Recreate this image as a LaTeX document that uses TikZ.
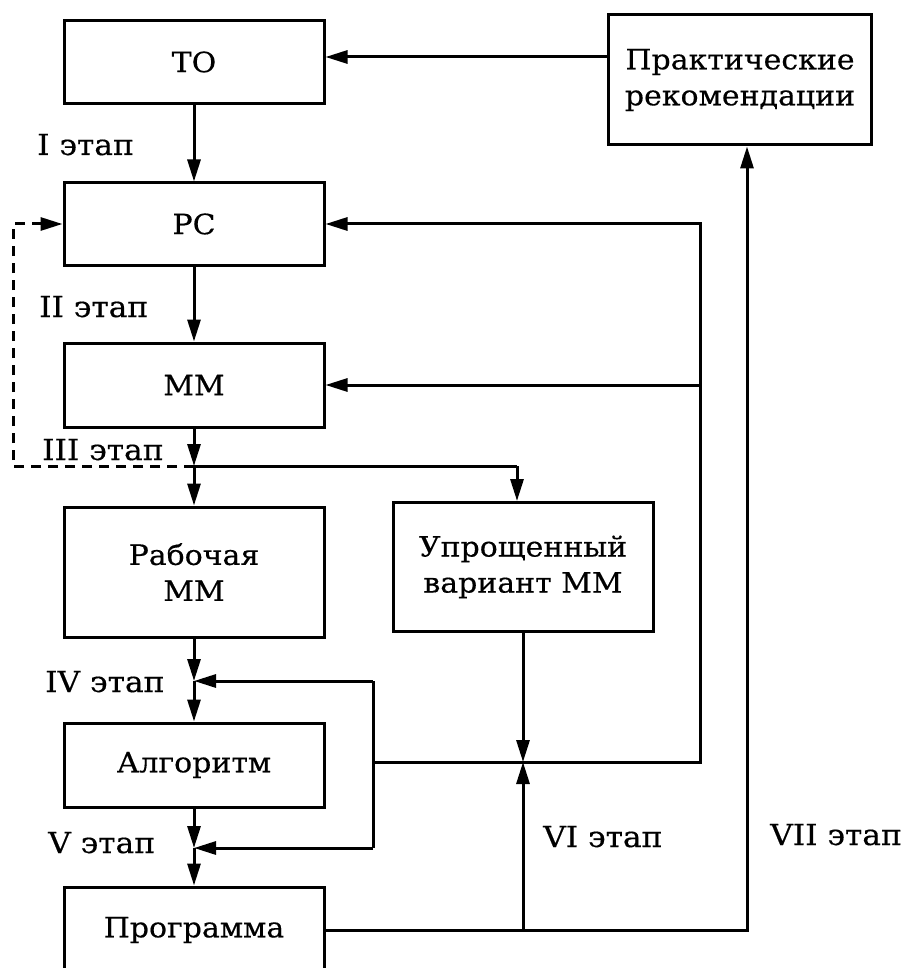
\documentclass[tikz,border=0pt]{standalone}
\usepackage{fontspec}
\setmainfont{DejaVu Serif}
\newfontfamily\boxfont[FakeStretch=1.07,FakeBold=0.4]{DejaVu Serif}
\newfontfamily\lblfont[FakeStretch=1.08,FakeBold=0.4]{DejaVu Serif}
\usetikzlibrary{arrows.meta}
\begin{document}
\begin{tikzpicture}[x=1pt,y=-1pt,
  box/.style={draw,line width=3pt,minimum width=260pt,align=center,inner sep=0pt,
    font=\boxfont\fontsize{28}{36}\selectfont},
  ln/.style={line width=3pt},
  arr/.style={line width=3pt,-{Triangle[length=22pt,width=13pt]}},
  dsh/.style={line width=3pt,dash pattern=on 10pt off 7pt,-{Triangle[length=22pt,width=13pt]}},
  lbl/.style={anchor=base west,inner sep=0pt,font=\lblfont\fontsize{29}{34}\selectfont}]
\useasboundingbox (0,0) rectangle (908,968);
% boxes
\node[box,minimum height=83pt] (TO) at (194,62) {ТО};
\node[box,minimum height=82pt] (PC) at (194,224) {РС};
\node[box,minimum height=84pt] (MM) at (194,385) {ММ};
\node[box,minimum height=130pt] (RMM) at (194,572) {Рабочая\\ММ};
\node[box,minimum height=129pt] (UMM) at (523,567) {Упрощенный\\вариант ММ};
\node[box,minimum height=84pt] (ALG) at (194,765) {Алгоритм};
\node[box,minimum height=86pt] (PROG) at (194,930) {Программа};
\node[box,minimum width=263pt,minimum height=130pt] (PR) at (740,80) {Практические\\рекомендации};
% coordinates
\coordinate (J3) at (194,466);
\coordinate (J4) at (194,681);
\coordinate (J5) at (194,848);
\coordinate (L4) at (373,681);
\coordinate (L5) at (373,848);
\coordinate (LM) at (373,762);
\coordinate (K) at (523,762);
\coordinate (R) at (700,762);
\coordinate (U) at (517,466);
\coordinate (D1) at (13,466);
\coordinate (D2) at (13,224);
\coordinate (P2) at (747,930);
\coordinate (Y1) at (0,57);
% main flow
\draw[arr] (TO.south) -- (PC.north);
\draw[arr] (PC.south) -- (MM.north);
\draw[arr] (MM.south) -- (J3);
\draw[arr] (J3) -- (RMM.north);
\draw[arr] (RMM.south) -- (J4);
\draw[arr] (J4) -- (ALG.north);
\draw[arr] (ALG.south) -- (J5);
\draw[arr] (J5) -- (PROG.north);
% branch to simplified model
\draw[ln] (J3) -- (U);
\draw[arr] (U) -- (U |- UMM.north);
% dashed feedback
\draw[dsh] (J3) -- (D1) -- (D2) -- (PC.west);
% loop around algorithm
\draw[ln] (L4) -- (L5);
\draw[arr] (L4) -- (J4);
\draw[arr] (L5) -- (J5);
% feedback to RS and MM
\draw[arr] (LM) -- (R) -- (R |- PC.east) -- (PC.east);
\draw[arr] (R |- MM.east) -- (MM.east);
% VI stage
\draw[arr] (UMM.south) -- (K);
\draw[arr] (K |- PROG.east) -- (K);
% VII stage
\draw[arr] (PROG.east) -- (P2) -- (P2 |- PR.south);
% recommendations to TO
\draw[arr] (PR.west |- Y1) -- (TO.east |- Y1);
% labels
\node[lbl] (l1) at (37,155) {I этап};
\node[lbl] (l2) at (39,317) {II этап};
\node[lbl] (l3) at (42,460) {III этап};
\node[lbl] (l4) at (45,692) {IV этап};
\node[lbl] (l5) at (48,853) {V этап};
\node[lbl] (l6) at (543,847) {VI этап};
\node[lbl] (l7) at (770,845) {VII этап};
\end{tikzpicture}
\end{document}
